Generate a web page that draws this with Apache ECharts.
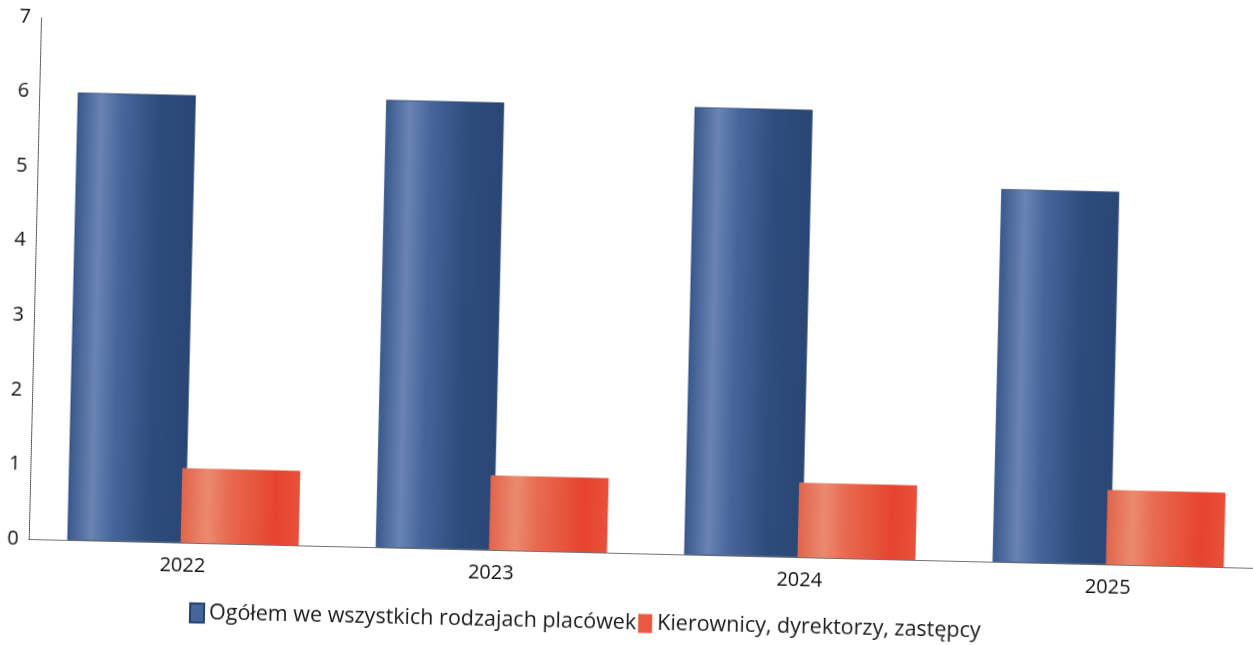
<!DOCTYPE html>
<html>
<head>
<meta charset="utf-8">
<title>Wykres</title>
<script src="https://cdn.jsdelivr.net/npm/echarts@6/dist/echarts.min.js"></script>
<style>
    html, body { margin: 0; padding: 0; background: #fff; overflow: hidden; width: 1253px; height: 645px; }
    /* skan jest lekko obrocony, os X wychodzi poza prawa krawedz */
    #main { width: 1290px; height: 645px; transform: rotate(1.35deg); transform-origin: 626px 322px; }
</style>
</head>
<body>
<div id="main"></div>
<script>
var years = ['2022', '2023', '2024', '2025'];
var ogolem = [6, 6, 6, 5];
var kierownicy = [1, 1, 1, 1];
var seriesNames = ['Ogółem we wszystkich rodzajach placówek', 'Kierownicy, dyrektorzy, zastępcy'];

var blueFill = new echarts.graphic.LinearGradient(0, 0, 1, 0, [
    {offset: 0, color: '#38588c'},
    {offset: 0.2, color: '#6a84b2'},
    {offset: 0.38, color: '#46669b'},
    {offset: 0.7, color: '#2d4c7c'},
    {offset: 1, color: '#2a4674'}
]);
var redFill = new echarts.graphic.LinearGradient(0, 0, 1, 0, [
    {offset: 0, color: '#e0654a'},
    {offset: 0.22, color: '#ea8a70'},
    {offset: 0.4, color: '#e86a50'},
    {offset: 0.8, color: '#e6442e'},
    {offset: 1, color: '#e8503a'}
]);

var myChart = echarts.init(document.getElementById('main'));
var option = {
    backgroundColor: '#fff',
    animation: false,
    textStyle: {fontFamily: 'Open Sans'},
    legend: {
        left: 191,
        top: 607,
        icon: 'rect',
        itemWidth: 14,
        itemHeight: 19,
        itemGap: 2,
        textStyle: {fontSize: 21.5, color: '#1a1a1a', fontFamily: 'Open Sans'},
        data: [
            {name: seriesNames[0], itemStyle: {color: '#45659b'}},
            {name: seriesNames[1], itemStyle: {color: '#e85a40'}}
        ]
    },
    grid: {
        left: 34,
        right: 22,
        top: 31,
        bottom: 92,
        containLabel: false
    },
    xAxis: {
        type: 'category',
        data: years,
        axisLine: {show: true, lineStyle: {color: '#555', type: 'dotted', width: 1}},
        axisTick: {show: false},
        axisLabel: {fontSize: 20, color: '#111', margin: 13}
    },
    yAxis: {
        type: 'value',
        min: 0,
        max: 7,
        interval: 1,
        axisLine: {show: true, lineStyle: {color: '#444', type: 'dotted', width: 1}},
        axisTick: {show: false},
        splitLine: {show: false},
        axisLabel: {fontSize: 20, color: '#111', margin: 10}
    },
    series: [
        {
            name: seriesNames[0],
            type: 'bar',
            barWidth: 118,
            barGap: '-4%',
            itemStyle: {color: blueFill, borderColor: '#23406e', borderWidth: 0.6},
            data: ogolem
        },
        {
            name: seriesNames[1],
            type: 'bar',
            barWidth: 118,
            itemStyle: {color: redFill},
            data: kierownicy
        }
    ]
};
myChart.setOption(option);
window.addEventListener('resize', function () {
    myChart.resize();
});
</script>
</body>
</html>
